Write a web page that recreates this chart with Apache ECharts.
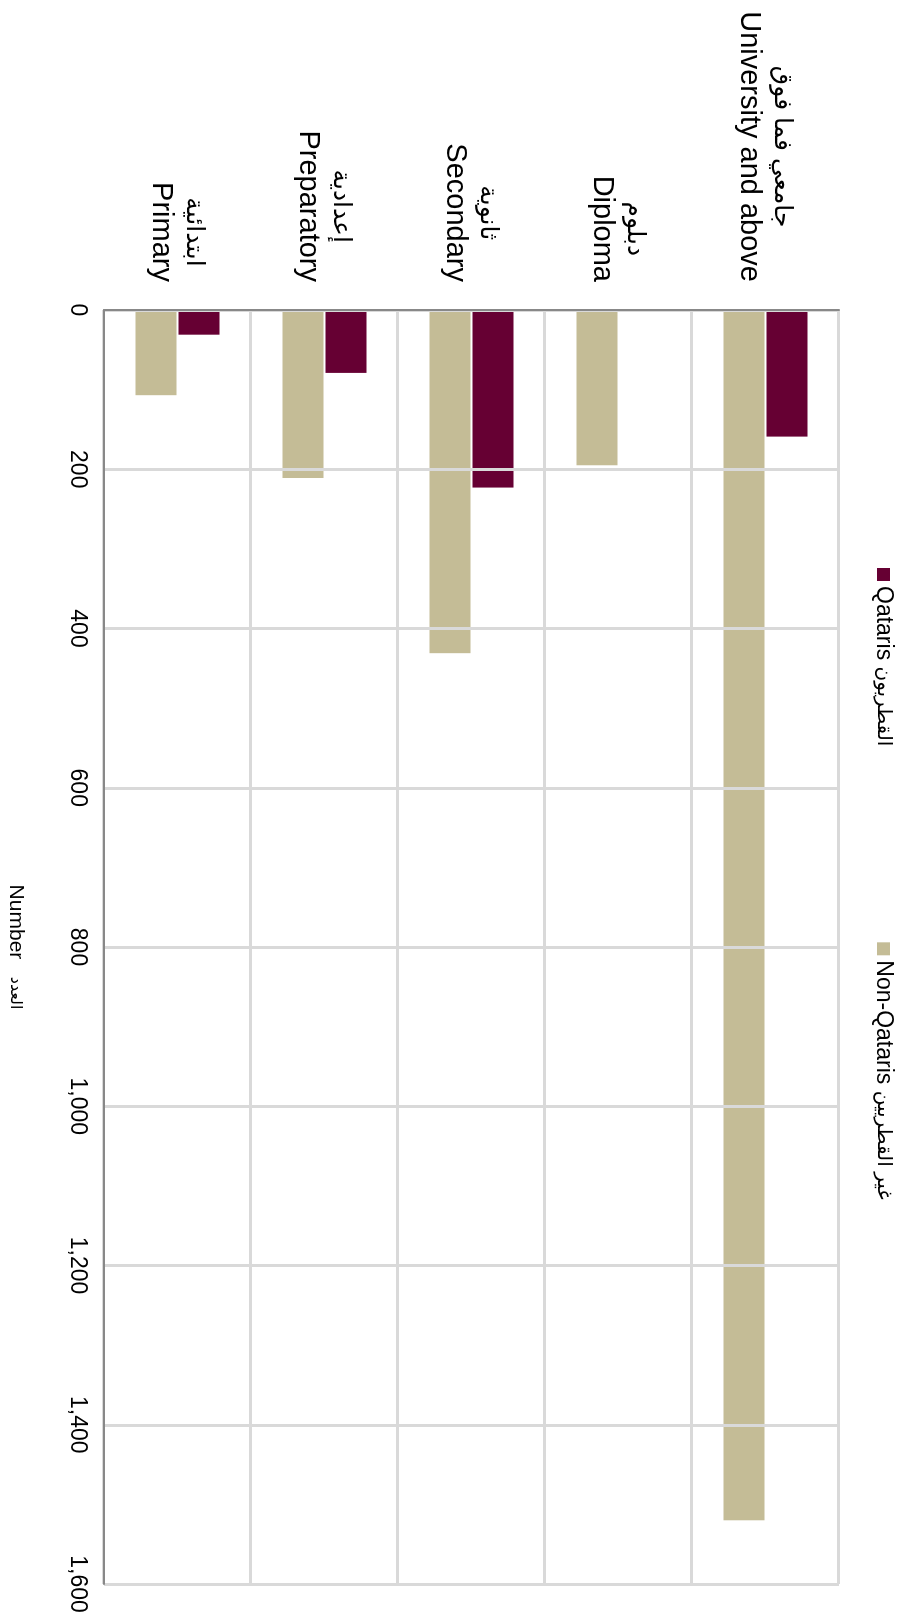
<!DOCTYPE html>
<html lang="en">
<head>
<meta charset="UTF-8">
<title>Employees by educational level</title>
<script src="https://cdn.jsdelivr.net/npm/echarts@6/dist/echarts.min.js"></script>
<style>
  html, body { margin:0; padding:0; background:#fff; overflow:hidden; }
  /* chart is drawn landscape, then turned a quarter clockwise like the source page */
  #chart { position:absolute; left:0; top:0; width:1623px; height:901px;
    transform-origin:0 0; transform:translate(901px,0) rotate(90deg); }
</style>
</head>
<body>
<div id="chart"></div>
<script>
  const levelsEn = ['University and above', 'Diploma', 'Secondary', 'Preparatory', 'Primary'];
  const levelsAr = ['جامعي فما فوق', 'دبلوم', 'ثانوية', 'إعدادية', 'ابتدائية'];
  const qataris = [159, 0, 223, 79, 31];
  const nonQataris = [1520, 195, 431, 211, 107];
  const seriesEn = ['Qataris', 'Non-Qataris'];
  const seriesAr = ['القطريون', 'غير القطريين'];

  const font = 'Arial, "Liberation Sans", "DejaVu Sans", sans-serif';
  const chart = echarts.init(document.getElementById('chart'));

  chart.setOption({
    animation: false,
    textStyle: { fontFamily: font, color: '#000' },
    grid: { left: 310, right: 39, top: 62, bottom: 104 },
    legend: {
      left: 563, top: 1,
      itemWidth: 13, itemHeight: 13, itemGap: 196,
      icon: 'rect',
      data: seriesEn,
      formatter: name => name + ' {ar|' + seriesAr[seriesEn.indexOf(name)] + '}',
      textStyle: {
        fontSize: 23, color: '#000', fontFamily: font,
        rich: { ar: { fontSize: 20, fontFamily: font, color: '#000' } }
      }
    },
    xAxis: {
      type: 'value', min: 0, max: 1600, interval: 200, z: 3,
      name: 'Number   {ar|العدد}',
      nameLocation: 'middle', nameGap: 78,
      nameTextStyle: { fontSize: 21, color: '#000', rich: { ar: { fontSize: 16, color: '#000' } } },
      axisLine: { show: true, lineStyle: { color: '#888', width: 2 } },
      axisTick: { show: false },
      axisLabel: {
        fontSize: 23, color: '#000', margin: 15,
        formatter: v => v.toLocaleString('en-US')
      },
      splitLine: { lineStyle: { color: '#d9d9d9', width: 3 } }
    },
    yAxis: {
      type: 'category', inverse: true, data: levelsEn, z: 3,
      axisLine: { lineStyle: { color: '#888', width: 2 } },
      axisTick: { show: false },
      splitLine: { show: true, lineStyle: { color: '#d9d9d9', width: 3 } },
      axisLabel: {
        margin: 28, align: 'right',
        formatter: (v, i) => '{ar|' + levelsAr[i] + '}\n{en|' + v + '}',
        rich: {
          ar: { fontSize: 25, lineHeight: 32, align: 'center', color: '#000', fontFamily: font },
          en: { fontSize: 29, lineHeight: 32, align: 'center', color: '#000', fontFamily: font }
        }
      }
    },
    series: [
      { name: seriesEn[0], type: 'bar', data: qataris, barWidth: 41, barGap: '5%',
        itemStyle: { color: '#660033' } },
      { name: seriesEn[1], type: 'bar', data: nonQataris, barWidth: 41, barGap: '5%',
        itemStyle: { color: '#c4bc96' } }
    ]
  });
</script>
</body>
</html>
